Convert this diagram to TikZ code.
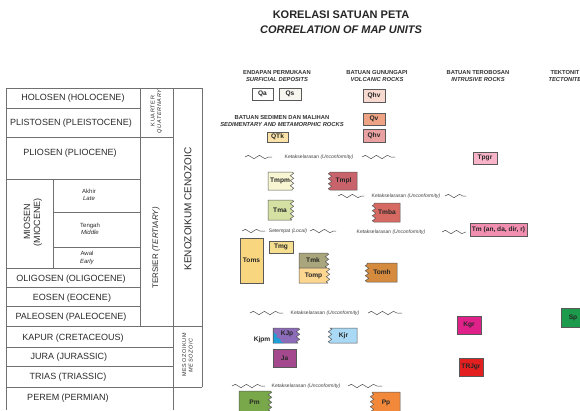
\documentclass[tikz,border=0pt]{standalone}
\usepackage{fontspec}
\setmainfont{Liberation Sans}
\usetikzlibrary{decorations.pathmorphing}
\definecolor{tgrid}{HTML}{707070}
\definecolor{txt}{HTML}{2B2B2B}
\definecolor{cQs}{HTML}{F7F7EF}
\definecolor{cQhv}{HTML}{F7D9CF}
\definecolor{cQv}{HTML}{EEA384}
\definecolor{cQhvb}{HTML}{E9A1A1}
\definecolor{cQTk}{HTML}{FBE2A8}
\definecolor{cTpgr}{HTML}{F9B4CA}
\definecolor{cTmpm}{HTML}{F8F6D2}
\definecolor{cTmpl}{HTML}{C9636B}
\definecolor{cTma}{HTML}{D4E1A2}
\definecolor{cTmba}{HTML}{D66A62}
\definecolor{cTm}{HTML}{F28FB0}
\definecolor{cToms}{HTML}{F8D57F}
\definecolor{cTmg}{HTML}{F5DF8E}
\definecolor{cTmk}{HTML}{A9A57C}
\definecolor{cTomp}{HTML}{FDD690}
\definecolor{cTomh}{HTML}{D48B3D}
\definecolor{cKJp}{HTML}{8C6CB8}
\definecolor{cKJb}{HTML}{1F9FD8}
\definecolor{cKjr}{HTML}{A9D9F4}
\definecolor{cJa}{HTML}{A5498F}
\definecolor{cKgr}{HTML}{E0218A}
\definecolor{cTRJ}{HTML}{E3201F}
\definecolor{cSp}{HTML}{1B9B4B}
\definecolor{cPm}{HTML}{79A84A}
\definecolor{cPp}{HTML}{F2893A}
\tikzset{
  gridl/.style={draw=tgrid, line width=0.6pt},
  tt/.style={font=\fontsize{9}{10}\selectfont, text=txt, inner sep=0pt},
  subtxt/.style={font=\fontsize{6}{7.5}\selectfont, text=txt, inner sep=0pt, align=center},
  tiny/.style={font=\fontsize{5.5}{6.5}\selectfont\addfontfeature{LetterSpace=12}, text=txt, inner sep=0pt, align=center},
  ubx/.style={draw=black!65, line width=0.5pt},
  utext/.style={font=\bfseries\fontsize{6.6}{6.6}\selectfont, text=black!85, inner sep=0pt},
  jag/.style={decoration={zigzag, segment length=5pt, amplitude=1.7pt}},
  wave/.style={draw=black!70, line width=0.5pt, decorate, decoration={snake, segment length=11pt, amplitude=1.7pt}},
  unc/.style={font=\fontsize{5}{5}\selectfont, text=black!75, inner sep=0pt},
  hdr/.style={font=\bfseries\fontsize{5.8}{6.6}\selectfont, text=black!80, align=center, inner sep=0pt},
}
% name, x1, y1, x2, y2, colour, text
\newcommand{\ubox}[7]{%
  \filldraw[ubx, fill=#6] (#2,#3) rectangle (#4,#5);
  \node[utext] (#1) at ({(#2+#4)/2},{(#3+#5)/2}) {#7};}
\newcommand{\uboxR}[7]{%
  \filldraw[ubx, fill=#6] (#2,#3) -- (#4,#3) decorate[jag]{-- (#4,#5)} -- (#2,#5) -- cycle;
  \node[utext] (#1) at ({(#2+#4)/2},{(#3+#5)/2}) {#7};}
\newcommand{\uboxL}[7]{%
  \filldraw[ubx, fill=#6] (#2,#3) -- (#4,#3) -- (#4,#5) -- (#2,#5) decorate[jag]{-- (#2,#3)} -- cycle;
  \node[utext] (#1) at ({(#2+#4)/2},{(#3+#5)/2}) {#7};}
\newcommand{\wavy}[3]{\draw[wave] (#1,#3) -- (#2,#3);}
\begin{document}
\begin{tikzpicture}[x=1pt,y=-1pt]
\useasboundingbox (0,0) rectangle (580,410);
\clip (0,0) rectangle (580,410);
\fill[white] (0,0) rectangle (580,410);

% ---------- title ----------
\node[font=\bfseries\fontsize{11}{11}\selectfont, text=black!85, inner sep=0pt] (t1) at (341,15) {KORELASI SATUAN PETA};
\node[font=\bfseries\itshape\fontsize{11}{11}\selectfont, text=black!85, inner sep=0pt] (t2) at (341,30) {CORRELATION OF MAP UNITS};

% ---------- time table ----------
\draw[gridl] (6,88) -- (202,88);
\draw[gridl] (6,88) -- (6,410);
\draw[gridl] (140,88) -- (140,326);
\draw[gridl] (173,88) -- (173,410);
\draw[gridl] (202,88) -- (202,387);
\draw[gridl] (53,179) -- (53,268);
\draw[gridl] (6,108) -- (140,108);
\draw[gridl] (6,137) -- (173,137);
\draw[gridl] (6,179) -- (140,179);
\draw[gridl] (53,212) -- (140,212);
\draw[gridl] (53,247) -- (140,247);
\draw[gridl] (6,268) -- (140,268);
\draw[gridl] (6,287) -- (140,287);
\draw[gridl] (6,306) -- (140,306);
\draw[gridl] (6,326) -- (202,326);
\draw[gridl] (6,347) -- (173,347);
\draw[gridl] (6,366) -- (173,366);
\draw[gridl] (6,387) -- (202,387);

\node[tt] (holo) at (73,98) {HOLOSEN (HOLOCENE)};
\node[tt] (plei) at (71,123) {PLISTOSEN (PLEISTOCENE)};
\node[tt] (plio) at (70,153) {PLIOSEN (PLIOCENE)};
\node[tt, rotate=90, align=center] (mio) at (33,222) {MIOSEN\\(MIOCENE)};
\node[subtxt] (late) at (89,195) {Akhir\\\textit{Late}};
\node[subtxt] (mid) at (90,229) {Tengah\\\textit{Middle}};
\node[subtxt] (early) at (87,258) {Awal\\\textit{Early}};
\node[tt] (oligo) at (71,279) {OLIGOSEN (OLIGOCENE)};
\node[tt] (eo) at (72,298) {EOSEN (EOCENE)};
\node[tt] (paleo) at (71,317) {PALEOSEN (PALEOCENE)};
\node[tt] (kapur) at (73,338) {KAPUR (CRETACEOUS)};
\node[tt] (jura) at (69,357) {JURA (JURASSIC)};
\node[tt] (trias) at (68,377) {TRIAS (TRIASSIC)};
\node[tt] (perem) at (68,398) {PEREM (PERMIAN)};

\node[tiny, rotate=90] (kuart) at (156.5,111) {KUARTER\\\textit{QUATERNARY}};
\node[tt, rotate=90, font=\fontsize{8}{8}\selectfont] (ters) at (156,248) {TERSIER \textit{(TERTIARY)}};
\node[tt, rotate=90, font=\fontsize{10}{10}\selectfont] (keno) at (188,209) {KENOZOIKUM CENOZOIC};
\node[tiny, rotate=90] (meso) at (187.5,355) {MESOZOIKUM\\\textit{MESOZOIC}};

% ---------- column headers ----------
\node[hdr] (h1) at (277,76) {ENDAPAN PERMUKAAN\\\textit{SURFICIAL DEPOSITS}};
\node[hdr] (h2) at (377,76) {BATUAN GUNUNGAPI\\\textit{VOLCANIC ROCKS}};
\node[hdr] (h3) at (478,76) {BATUAN TEROBOSAN\\\textit{INTRUSIVE ROCKS}};
\node[hdr] (h4) at (565,76) {TEKTONIT\\\textit{TECTONITE}};
\node[hdr] (h5) at (282,121) {BATUAN SEDIMEN DAN MALIHAN\\\textit{SEDIMENTARY AND METAMORPHIC ROCKS}};

% ---------- unconformities ----------
\wavy{245}{272}{157}
\node[unc] (u1) at (319,157) {Ketakselarasan \textit{(Unconformity)}};
\wavy{362}{395}{157}
\wavy{338}{364}{196}
\node[unc] (u2) at (406,196) {Ketakselarasan \textit{(Unconformity)}};
\wavy{445}{466}{196}
\wavy{242}{265}{231}
\node[unc] (loc) at (288,231) {Setempat \textit{(Local)}};
\wavy{310}{336}{231}
\node[unc] (u3) at (391,232) {Ketakselarasan \textit{(Unconformity)}};
\wavy{442}{466}{232}
\wavy{250}{283}{313}
\node[unc] (u4) at (325,313) {Ketakselarasan \textit{(Unconformity)}};
\wavy{368}{402}{313}
\wavy{232}{265}{386}
\node[unc] (u5) at (306,386) {Ketakselarasan \textit{(Unconformity)}};
\wavy{348}{382}{386}

% ---------- units ----------
\ubox{Qa}{252}{88}{273}{100}{white}{Qa}
\ubox{Qs}{279}{88}{301}{100}{cQs}{Qs}
\ubox{Qhv}{363}{89}{385}{102}{cQhv}{Qhv}
\ubox{Qv}{363}{113}{385}{125}{cQv}{Qv}
\ubox{Qhvb}{363}{129}{385}{142}{cQhvb}{Qhv}
\ubox{QTk}{267}{132}{288}{142}{cQTk}{QTk}
\ubox{Tpgr}{473}{152}{497}{164}{cTpgr}{Tpgr}
\uboxR{Tmpm}{268}{172}{292}{190}{cTmpm}{Tmpm}
\uboxL{Tmpl}{330}{172}{357}{190}{cTmpl}{Tmpl}
\uboxR{Tma}{268}{200}{292}{220}{cTma}{Tma}
\uboxL{Tmba}{374}{203}{400}{222}{cTmba}{Tmba}
\ubox{Tm}{470}{223}{527}{236}{cTm}{Tm (an, da, dir, r)}
\ubox{Toms}{240}{238}{263}{283}{cToms}{Toms}
\ubox{Tmg}{269}{241}{293}{253}{cTmg}{Tmg}
\uboxR{Tmk}{299}{253}{327}{268}{cTmk}{Tmk}
\uboxR{Tomp}{299}{268}{328}{283}{cTomp}{Tomp}
\uboxL{Tomh}{367}{263}{397}{282}{cTomh}{Tomh}
\uboxR{KJp}{273}{328}{298}{343}{cKJp}{}
\fill[cKJb] (273,332) -- (277,335) -- (276,337) -- (280,339) -- (281,342) -- (284,343) -- (273,343) -- cycle;
\draw[ubx] (273,328) rectangle (273,343);
\node[utext] (KJpt) at (287,334) {KJp};
\node[utext] (Kjpm) at (262,340) {Kjpm};
\uboxL{Kjr}{330}{328}{357}{343}{cKjr}{Kjr}
\ubox{Ja}{273}{349}{296}{367}{cJa}{Ja}
\ubox{Kgr}{457}{316}{481}{334}{cKgr}{Kgr}
\ubox{TRJgr}{459}{358}{483}{376}{cTRJ}{TRJgr}
\ubox{Sp}{561}{308}{585}{327}{cSp}{Sp}
\uboxR{Pm}{239}{391}{270}{413}{cPm}{Pm}
\uboxL{Pp}{372}{392}{400}{413}{cPp}{Pp}
\end{tikzpicture}
\end{document}
